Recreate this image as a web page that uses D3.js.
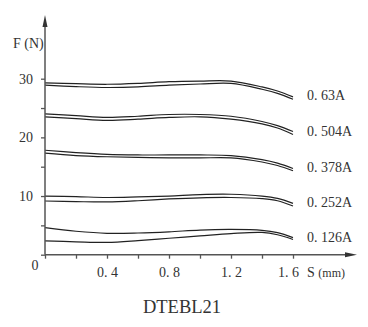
<!DOCTYPE html>
<html><head><meta charset="utf-8">
<script src="https://cdn.jsdelivr.net/npm/d3@7"></script>
<style>
html,body{margin:0;padding:0;background:#fff;}
svg{display:block;}
text{font-family:"Liberation Serif","DejaVu Serif",serif;fill:#333;}
</style></head>
<body>
<svg id="c" width="368" height="327"></svg>
<script>
const sValues = [0, 0.2, 0.4, 0.6, 0.8, 1.0, 1.2, 1.4, 1.5, 1.6];
const currents = ["0. 63A", "0. 504A", "0. 378A", "0. 252A", "0. 126A"];
const upper063 = [29.3, 29.15, 29.05, 29.2, 29.5, 29.6, 29.6, 28.6, 27.9, 26.9];
const lower063 = [28.9, 28.65, 28.5, 28.6, 28.9, 29.1, 29.2, 28.2, 27.5, 26.5];
const upper0504 = [24.0, 23.7, 23.4, 23.6, 23.9, 23.9, 23.6, 22.7, 22.0, 21.0];
const lower0504 = [23.5, 23.2, 22.9, 23.1, 23.4, 23.5, 23.1, 22.3, 21.6, 20.5];
const upper0378 = [17.8, 17.4, 17.1, 17.0, 17.0, 17.0, 16.9, 16.2, 15.6, 14.7];
const lower0378 = [17.3, 16.9, 16.7, 16.6, 16.5, 16.5, 16.5, 15.8, 15.2, 14.3];
const upper0252 = [10.0, 9.9, 9.75, 9.85, 10.0, 10.25, 10.3, 10.0, 9.6, 8.75];
const lower0252 = [9.15, 9.05, 9.0, 9.2, 9.5, 9.7, 9.75, 9.55, 9.2, 8.3];
const upper0126 = [4.6, 4.0, 3.65, 3.7, 3.9, 4.2, 4.3, 4.15, 3.75, 2.9];
const lower0126 = [2.35, 2.2, 2.1, 2.4, 2.8, 3.2, 3.6, 3.8, 3.4, 2.6];
const xTicks = [0, 0.2, 0.4, 0.6, 0.8, 1.0, 1.2, 1.4, 1.6];
const xTickLabels = {"0.4": "0. 4", "0.8": "0. 8", "1.2": "1. 2", "1.6": "1. 6"};
const yTicks = [0, 5, 10, 15, 20, 25, 30];
const yTickLabels = {"10": "10", "20": "20", "30": "30"};

const pairs = [
  [upper063, lower063], [upper0504, lower0504], [upper0378, lower0378],
  [upper0252, lower0252], [upper0126, lower0126]
];

const svg = d3.select("#c");
const x = d3.scaleLinear().domain([0, 1.6]).range([45, 293]);
const y = d3.scaleLinear().domain([0, 30]).range([254.7, 78.7]);
const axisColor = "#555";

// curves
const line = d3.line().x(d => x(d[0])).y(d => y(d[1])).curve(d3.curveCatmullRom.alpha(0.5));
pairs.forEach(p => {
  p.forEach(vals => {
    svg.append("path")
      .attr("d", line(sValues.map((s, i) => [s, vals[i]])))
      .attr("fill", "none").attr("stroke", "#222").attr("stroke-width", 1.2);
  });
});

// axes
const gy = svg.append("g").attr("transform", "translate(45,0)")
  .call(d3.axisLeft(y).tickValues(yTicks).tickSize(4).tickPadding(8)
    .tickFormat(d => yTickLabels[String(d)] || ""));
gy.select(".domain").remove();
gy.selectAll(".tick line").attr("stroke", axisColor).attr("stroke-width", 1.3);
gy.selectAll(".tick text").attr("font-size", 14).attr("font-family", "Liberation Serif").attr("fill", "#333");

const gx = svg.append("g").attr("transform", "translate(0,254.7)")
  .call(d3.axisBottom(x).tickValues(xTicks).tickSize(4).tickPadding(8)
    .tickFormat(d => xTickLabels[String(Math.round(d * 10) / 10)] || ""));
gx.select(".domain").remove();
gx.selectAll(".tick line").attr("stroke", axisColor).attr("stroke-width", 1.3);
gx.selectAll(".tick text").attr("font-size", 14).attr("font-family", "Liberation Serif").attr("fill", "#333")
  .attr("dx", d => Math.abs(d - 1.6) < 1e-9 ? -5 : 0);

// axis lines with arrows
svg.append("line").attr("x1", 45).attr("y1", y(0)).attr("x2", 45).attr("y2", 24)
  .attr("stroke", axisColor).attr("stroke-width", 1.5);
svg.append("path").attr("d", "M45,15 L42.5,27 L47.5,27 Z").attr("fill", "#333");
svg.append("line").attr("x1", 45).attr("y1", y(0)).attr("x2", 348).attr("y2", y(0))
  .attr("stroke", axisColor).attr("stroke-width", 1.5);
svg.append("path").attr("d", `M357,${y(0)} L345,${y(0) - 2.5} L345,${y(0) + 2.5} Z`).attr("fill", "#333");

// origin label
svg.append("text").attr("x", 35).attr("y", 270).attr("text-anchor", "middle")
  .attr("font-size", 14).text("0");

// axis titles
svg.append("text").attr("x", 13).attr("y", 48).attr("font-size", 14).text("F (N)");
const st = svg.append("text").attr("x", 307).attr("y", 277).attr("font-size", 14);
st.append("tspan").text("S ");
st.append("tspan").attr("font-size", 12).text("(mm)");

// series labels
const labelY = [100, 136, 172, 207, 242];
currents.forEach((c, i) => {
  svg.append("text").attr("x", 307).attr("y", labelY[i]).attr("font-size", 14).text(c);
});

// title
svg.append("text").attr("x", 182).attr("y", 313).attr("text-anchor", "middle")
  .attr("font-size", 18.5).text("DTEBL21");
</script>
</body></html>
